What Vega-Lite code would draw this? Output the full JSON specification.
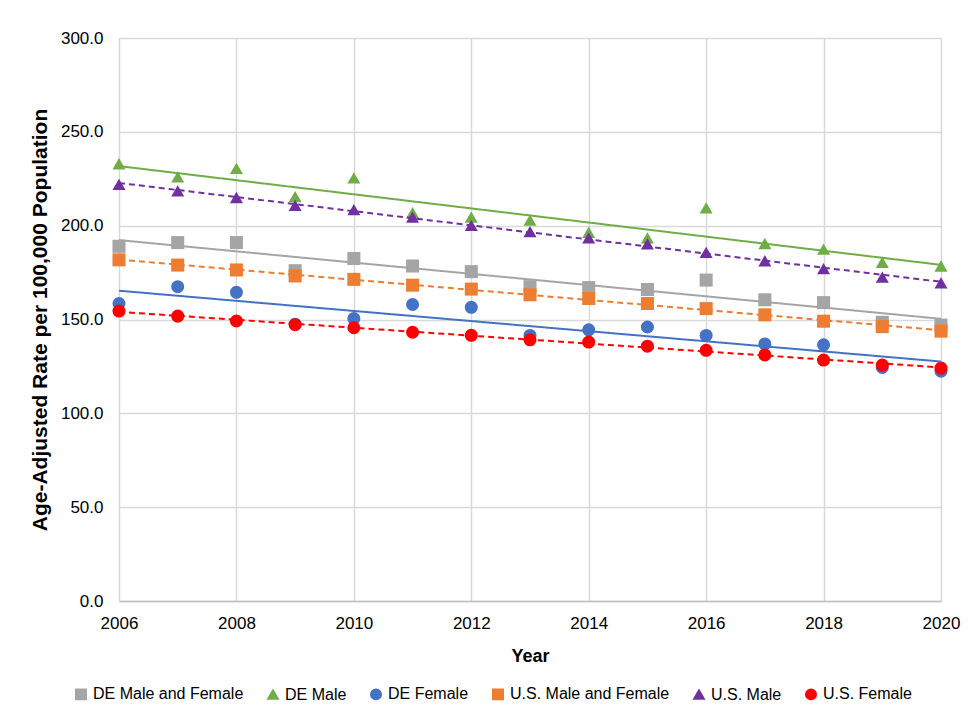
{
  "$schema": "https://vega.github.io/schema/vega-lite/v6.json",
  "width": 822,
  "height": 563,
  "autosize": {"type": "none"},
  "padding": {"left": 119, "top": 38, "right": 36, "bottom": 125},
  "background": "white",
  "config": {
    "font": "Liberation Sans",
    "view": {"stroke": null},
    "axis": {"labelFont": "Liberation Sans", "titleFont": "Liberation Sans", "labelColor": "#000000", "titleColor": "#000000"}
  },
  "data": {
    "values": [
      {"year": 2006, "series": "DE Male and Female", "region": "DE", "value": 189},
      {"year": 2007, "series": "DE Male and Female", "region": "DE", "value": 191},
      {"year": 2008, "series": "DE Male and Female", "region": "DE", "value": 191},
      {"year": 2009, "series": "DE Male and Female", "region": "DE", "value": 176},
      {"year": 2010, "series": "DE Male and Female", "region": "DE", "value": 182.5},
      {"year": 2011, "series": "DE Male and Female", "region": "DE", "value": 178.5},
      {"year": 2012, "series": "DE Male and Female", "region": "DE", "value": 175.5},
      {"year": 2013, "series": "DE Male and Female", "region": "DE", "value": 167.5},
      {"year": 2014, "series": "DE Male and Female", "region": "DE", "value": 167},
      {"year": 2015, "series": "DE Male and Female", "region": "DE", "value": 166},
      {"year": 2016, "series": "DE Male and Female", "region": "DE", "value": 171},
      {"year": 2017, "series": "DE Male and Female", "region": "DE", "value": 160.5},
      {"year": 2018, "series": "DE Male and Female", "region": "DE", "value": 159},
      {"year": 2019, "series": "DE Male and Female", "region": "DE", "value": 148.5},
      {"year": 2020, "series": "DE Male and Female", "region": "DE", "value": 147},
      {"year": 2006, "series": "DE Male", "region": "DE", "value": 233},
      {"year": 2007, "series": "DE Male", "region": "DE", "value": 226},
      {"year": 2008, "series": "DE Male", "region": "DE", "value": 230.5},
      {"year": 2009, "series": "DE Male", "region": "DE", "value": 215.5},
      {"year": 2010, "series": "DE Male", "region": "DE", "value": 225.5},
      {"year": 2011, "series": "DE Male", "region": "DE", "value": 207},
      {"year": 2012, "series": "DE Male", "region": "DE", "value": 204.5},
      {"year": 2013, "series": "DE Male", "region": "DE", "value": 203},
      {"year": 2014, "series": "DE Male", "region": "DE", "value": 196.5},
      {"year": 2015, "series": "DE Male", "region": "DE", "value": 193.5},
      {"year": 2016, "series": "DE Male", "region": "DE", "value": 209.5},
      {"year": 2017, "series": "DE Male", "region": "DE", "value": 190.5},
      {"year": 2018, "series": "DE Male", "region": "DE", "value": 187.5},
      {"year": 2019, "series": "DE Male", "region": "DE", "value": 180.5},
      {"year": 2020, "series": "DE Male", "region": "DE", "value": 178.5},
      {"year": 2006, "series": "DE Female", "region": "DE", "value": 158.5},
      {"year": 2007, "series": "DE Female", "region": "DE", "value": 167.5},
      {"year": 2008, "series": "DE Female", "region": "DE", "value": 164.5},
      {"year": 2009, "series": "DE Female", "region": "DE", "value": 147.5},
      {"year": 2010, "series": "DE Female", "region": "DE", "value": 150.5},
      {"year": 2011, "series": "DE Female", "region": "DE", "value": 158},
      {"year": 2012, "series": "DE Female", "region": "DE", "value": 156.5},
      {"year": 2013, "series": "DE Female", "region": "DE", "value": 141.5},
      {"year": 2014, "series": "DE Female", "region": "DE", "value": 144.5},
      {"year": 2015, "series": "DE Female", "region": "DE", "value": 146},
      {"year": 2016, "series": "DE Female", "region": "DE", "value": 141.5},
      {"year": 2017, "series": "DE Female", "region": "DE", "value": 137},
      {"year": 2018, "series": "DE Female", "region": "DE", "value": 136.5},
      {"year": 2019, "series": "DE Female", "region": "DE", "value": 124.5},
      {"year": 2020, "series": "DE Female", "region": "DE", "value": 122.5},
      {"year": 2006, "series": "U.S. Male and Female", "region": "U.S.", "value": 181.8},
      {"year": 2007, "series": "U.S. Male and Female", "region": "U.S.", "value": 179},
      {"year": 2008, "series": "U.S. Male and Female", "region": "U.S.", "value": 176.4},
      {"year": 2009, "series": "U.S. Male and Female", "region": "U.S.", "value": 173.2},
      {"year": 2010, "series": "U.S. Male and Female", "region": "U.S.", "value": 171.4},
      {"year": 2011, "series": "U.S. Male and Female", "region": "U.S.", "value": 168.3},
      {"year": 2012, "series": "U.S. Male and Female", "region": "U.S.", "value": 166.2},
      {"year": 2013, "series": "U.S. Male and Female", "region": "U.S.", "value": 163.2},
      {"year": 2014, "series": "U.S. Male and Female", "region": "U.S.", "value": 161.2},
      {"year": 2015, "series": "U.S. Male and Female", "region": "U.S.", "value": 158.5},
      {"year": 2016, "series": "U.S. Male and Female", "region": "U.S.", "value": 155.8},
      {"year": 2017, "series": "U.S. Male and Female", "region": "U.S.", "value": 152.5},
      {"year": 2018, "series": "U.S. Male and Female", "region": "U.S.", "value": 149.1},
      {"year": 2019, "series": "U.S. Male and Female", "region": "U.S.", "value": 146.2},
      {"year": 2020, "series": "U.S. Male and Female", "region": "U.S.", "value": 143.8},
      {"year": 2006, "series": "U.S. Male", "region": "U.S.", "value": 222},
      {"year": 2007, "series": "U.S. Male", "region": "U.S.", "value": 218.5},
      {"year": 2008, "series": "U.S. Male", "region": "U.S.", "value": 215},
      {"year": 2009, "series": "U.S. Male", "region": "U.S.", "value": 210.8},
      {"year": 2010, "series": "U.S. Male", "region": "U.S.", "value": 208.5},
      {"year": 2011, "series": "U.S. Male", "region": "U.S.", "value": 204.5},
      {"year": 2012, "series": "U.S. Male", "region": "U.S.", "value": 200.2},
      {"year": 2013, "series": "U.S. Male", "region": "U.S.", "value": 196.8},
      {"year": 2014, "series": "U.S. Male", "region": "U.S.", "value": 193.5},
      {"year": 2015, "series": "U.S. Male", "region": "U.S.", "value": 190.3},
      {"year": 2016, "series": "U.S. Male", "region": "U.S.", "value": 185.8},
      {"year": 2017, "series": "U.S. Male", "region": "U.S.", "value": 181.3},
      {"year": 2018, "series": "U.S. Male", "region": "U.S.", "value": 177.1},
      {"year": 2019, "series": "U.S. Male", "region": "U.S.", "value": 172.6},
      {"year": 2020, "series": "U.S. Male", "region": "U.S.", "value": 169.5},
      {"year": 2006, "series": "U.S. Female", "region": "U.S.", "value": 154.5},
      {"year": 2007, "series": "U.S. Female", "region": "U.S.", "value": 151.8},
      {"year": 2008, "series": "U.S. Female", "region": "U.S.", "value": 149.2},
      {"year": 2009, "series": "U.S. Female", "region": "U.S.", "value": 147.2},
      {"year": 2010, "series": "U.S. Female", "region": "U.S.", "value": 145.6},
      {"year": 2011, "series": "U.S. Female", "region": "U.S.", "value": 143.2},
      {"year": 2012, "series": "U.S. Female", "region": "U.S.", "value": 141.6},
      {"year": 2013, "series": "U.S. Female", "region": "U.S.", "value": 139.2},
      {"year": 2014, "series": "U.S. Female", "region": "U.S.", "value": 138},
      {"year": 2015, "series": "U.S. Female", "region": "U.S.", "value": 135.8},
      {"year": 2016, "series": "U.S. Female", "region": "U.S.", "value": 133.6},
      {"year": 2017, "series": "U.S. Female", "region": "U.S.", "value": 131.1},
      {"year": 2018, "series": "U.S. Female", "region": "U.S.", "value": 128.4},
      {"year": 2019, "series": "U.S. Female", "region": "U.S.", "value": 125.7},
      {"year": 2020, "series": "U.S. Female", "region": "U.S.", "value": 124.1}
    ]
  },
  "encoding": {
    "x": {
      "field": "year", "type": "quantitative",
      "scale": {"domain": [2006, 2020], "nice": false, "zero": false},
      "axis": {
        "title": "Year", "values": [2006, 2008, 2010, 2012, 2014, 2016, 2018, 2020], "format": "d",
        "grid": true, "gridColor": "#D9D9D9", "gridWidth": 1.5,
        "domain": true, "domainColor": "#BFBFBF", "domainWidth": 1.5,
        "ticks": false, "labelFlush": false, "labelPadding": 14, "labelFontSize": 17,
        "titleFontSize": 18, "titleFontWeight": "bold", "titlePadding": 16
      }
    },
    "y": {
      "field": "value", "type": "quantitative",
      "scale": {"domain": [0, 300], "nice": false},
      "axis": {
        "title": "Age-Adjusted Rate per 100,000 Population",
        "values": [0, 50, 100, 150, 200, 250, 300], "format": ".1f",
        "grid": true, "gridColor": "#D9D9D9", "gridWidth": 1.5,
        "domain": false, "ticks": false, "labelPadding": 16, "labelFontSize": 17,
        "titleFontSize": 21, "titleFontWeight": "bold", "titlePadding": 10
      }
    }
  },
  "layer": [
    {
      "mark": {"type": "point", "filled": true, "opacity": 1, "size": 170},
      "encoding": {
        "color": {
          "field": "series", "type": "nominal",
          "scale": {
            "domain": ["DE Male and Female", "DE Male", "DE Female", "U.S. Male and Female", "U.S. Male", "U.S. Female"],
            "range": ["#A5A5A5", "#70AD47", "#4472C4", "#ED7D31", "#7030A0", "#FF0000"]
          },
          "legend": {
            "title": null, "orient": "none", "direction": "horizontal",
            "legendX": -46, "legendY": 648,
            "labelFontSize": 16, "labelColor": "#000000", "symbolSize": 110,
            "columnPadding": 20, "labelOffset": 4, "symbolOpacity": 1
          }
        },
        "shape": {
          "field": "series", "type": "nominal",
          "scale": {
            "domain": ["DE Male and Female", "DE Male", "DE Female", "U.S. Male and Female", "U.S. Male", "U.S. Female"],
            "range": ["square", "triangle-up", "circle", "square", "triangle-up", "circle"]
          }
        }
      }
    },
    {
      "transform": [
        {"regression": "value", "on": "year", "groupby": ["series", "region"], "extent": [2006, 2020]}
      ],
      "mark": {"type": "line", "strokeWidth": 2},
      "encoding": {
        "stroke": {
          "field": "series", "type": "nominal",
          "scale": {
            "domain": ["DE Male and Female", "DE Male", "DE Female", "U.S. Male and Female", "U.S. Male", "U.S. Female"],
            "range": ["#A5A5A5", "#70AD47", "#4472C4", "#ED7D31", "#7030A0", "#FF0000"]
          },
          "legend": null
        },
        "strokeDash": {
          "field": "region", "type": "nominal",
          "scale": {"domain": ["DE", "U.S."], "range": [[1, 0], [6, 4]]},
          "legend": null
        }
      }
    }
  ]
}
